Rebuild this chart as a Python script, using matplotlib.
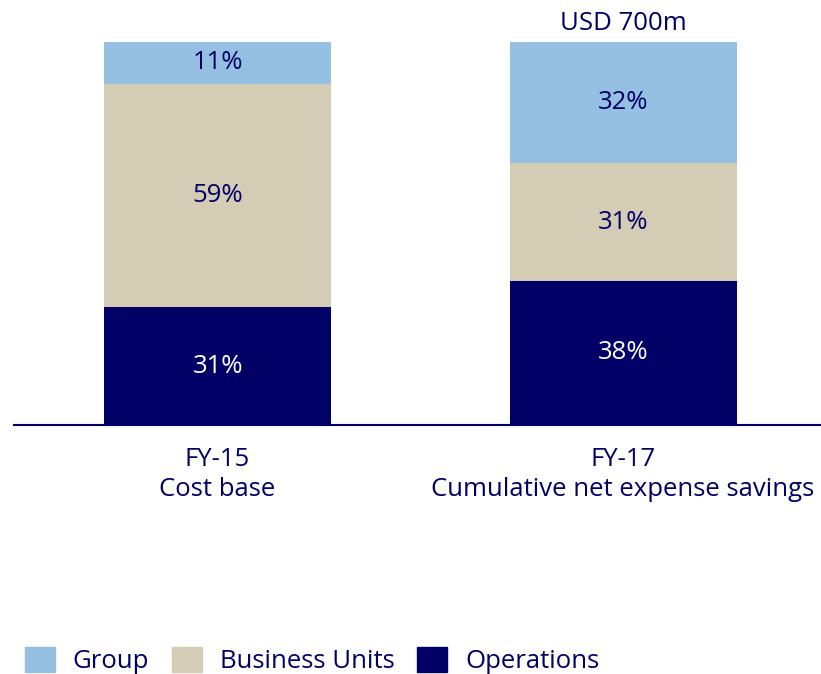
import matplotlib
matplotlib.use("Agg")
import matplotlib.pyplot as plt
from matplotlib.patches import Patch

categories = ["FY-15\nCost base", "FY-17\nCumulative net expense savings"]
operations = [31, 38]
business_units = [59, 31]
group = [11, 32]
series_names = ["Group", "Business Units", "Operations"]
top_label = "USD 700m"

c_group = "#96C0E2"
c_bu = "#D4CCB4"
c_ops = "#000066"
navy = "#000066"

plt.rcParams['font.family'] = ['Open Sans', 'DejaVu Sans']

fig = plt.figure(figsize=(8.21, 6.74), dpi=100)
ax = fig.add_axes([14/821, 1 - 425/674, 807/821, 425/674])

x = [0, 1]
w = 0.56
ax.bar(x, operations, width=w, color=c_ops)
ax.bar(x, business_units, width=w, bottom=operations, color=c_bu)
b2 = [o + b for o, b in zip(operations, business_units)]
ax.bar(x, group, width=w, bottom=b2, color=c_group)

fs = 18.5
for i in range(2):
    ax.text(x[i], operations[i] / 2, f"{operations[i]}%", ha="center", va="center", color="white", fontsize=fs)
    ax.text(x[i], operations[i] + business_units[i] / 2, f"{business_units[i]}%", ha="center", va="center", color=navy, fontsize=fs)
    ax.text(x[i], b2[i] + group[i] / 2, f"{group[i]}%", ha="center", va="center", color=navy, fontsize=fs)

tot = b2[1] + group[1]
ax.text(x[1], tot + 1.6, top_label, ha="center", va="bottom", color=navy, fontsize=fs)

ax.set_xlim(-0.502, 1.488)
ax.set_ylim(0, 101 * 425 / 383)
for s in ["top", "right", "left"]:
    ax.spines[s].set_visible(False)
ax.spines["bottom"].set_color(navy)
ax.spines["bottom"].set_linewidth(1.5)
ax.set_yticks([])
ax.set_xticks(x)
ax.set_xticklabels(categories, fontsize=fs, color=navy, linespacing=1.25)
ax.tick_params(axis="x", length=0, pad=16)

handles = [Patch(color=c_group), Patch(color=c_bu), Patch(color=c_ops)]
fig.legend(handles, series_names, loc="lower left", bbox_to_anchor=(25/821, 0), ncol=3,
           frameon=False, fontsize=fs, labelcolor=navy, handlelength=1.15, handleheight=1.15,
           handletextpad=0.7, columnspacing=0.9, borderpad=0, borderaxespad=0)

fig.savefig("out.png", dpi=100)
